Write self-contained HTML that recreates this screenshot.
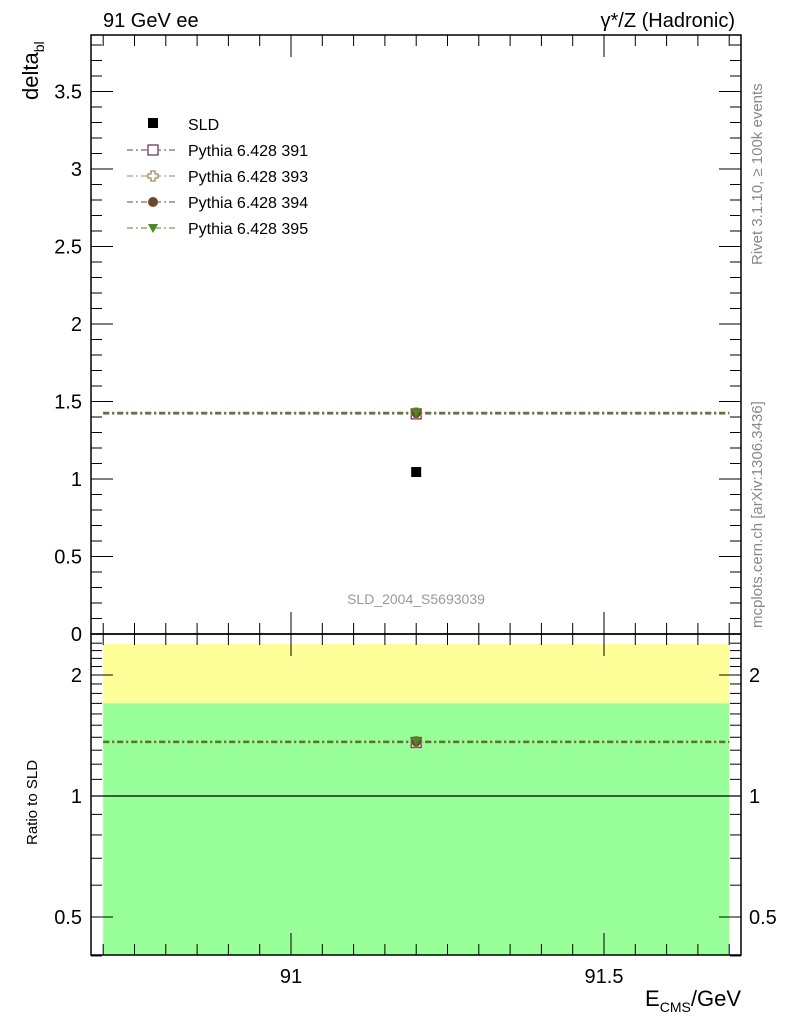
<!DOCTYPE html>
<html><head><meta charset="utf-8"><style>
body{margin:0;background:#fff;}
svg{display:block;font-family:"Liberation Sans",sans-serif;}
</style></head><body>
<svg id="chart" width="786" height="1024">
<rect x="0" y="0" width="786" height="1024" fill="#fff"/>
<g id="ratio-bands"></g>
<g id="lines"></g>
<g id="ticks"></g>
<rect x="91" y="35" width="650" height="599" fill="none" stroke="#000" stroke-width="1.5"/>
<rect x="91" y="634" width="650" height="321" fill="none" stroke="#000" stroke-width="1.5"/>
<text x="103" y="27" font-size="20">91 GeV ee</text>
<text x="735" y="27" font-size="20" text-anchor="end">γ*/Z (Hadronic)</text>
<text transform="translate(38,100) rotate(-90)" font-size="22">delta<tspan font-size="14" dy="6">bl</tspan></text>
<text transform="translate(37,845) rotate(-90)" font-size="15">Ratio to SLD</text>
<text x="741" y="1006" font-size="22" text-anchor="end">E<tspan font-size="14" dy="6">CMS</tspan><tspan dy="-6">/GeV</tspan></text>
<text transform="translate(762,265) rotate(-90)" font-size="15" fill="#888">Rivet 3.1.10, ≥ 100k events</text>
<text transform="translate(762,628) rotate(-90)" font-size="15" fill="#888">mcplots.cern.ch [arXiv:1306.3436]</text>
<text x="416" y="604" font-size="14" fill="#999" text-anchor="middle">SLD_2004_S5693039</text>
<g id="legend"></g>
<g id="marks"></g>
</svg>
<script>
const xCenters=[91.2];
const xLo=[90.7];
const xHi=[91.7];
const sldValues=[1.045];
const mcNames=["Pythia 6.428 391","Pythia 6.428 393","Pythia 6.428 394","Pythia 6.428 395"];
const mcValues=[1.42,1.425,1.428,1.43];
const mcColors=["#6b3a55","#9a8a5a","#6b4a2a","#4a8a20"];
const bandYellow=[2.39];
const bandGreen=[1.70];
const yTicks=[0,0.5,1,1.5,2,2.5,3,3.5];
const rTicks=[0.5,1,2];
const xTicks=[91,91.5];

const NS="http://www.w3.org/2000/svg";
const sx=v=>291+(v-91)*626;
const sy=v=>634-v*155;
const sr=v=>796-Math.log2(v)*121;
function mk(tag,a,parent){const e=document.createElementNS(NS,tag);for(const k in a)e.setAttribute(k,a[k]);document.getElementById(parent).appendChild(e);return e;}

// ratio bands
let b=mk('rect',{x:sx(xLo[0]),y:sr(bandYellow[0]),width:sx(xHi[0])-sx(xLo[0]),height:955-sr(bandYellow[0]),fill:'#ffff99'},'ratio-bands');


b=mk('rect',{x:sx(xLo[0]),y:sr(bandGreen[0]),width:sx(xHi[0])-sx(xLo[0]),height:955-sr(bandGreen[0]),fill:'#99ff99'},'ratio-bands');


let l=mk('line',{x1:91,x2:741,y1:sr(1),y2:sr(1),stroke:'#000','stroke-width':1.2},'lines');



// ticks
for(let v=0;v<=3.85;v+=0.1){const y=sy(v);const maj=yTicks.some(t=>Math.abs(t-v)<1e-6);const L=maj?22:11;
 mk('line',{x1:91,x2:91+L,y1:y,y2:y,stroke:'#000'},'ticks');mk('line',{x1:741,x2:741-L,y1:y,y2:y,stroke:'#000'},'ticks');}
yTicks.forEach(v=>{const t=mk('text',{x:82,y:sy(v)+7,'font-size':20,'text-anchor':'end'},'ticks');t.textContent=v;
 
 });
for(let v=0.4;v<=2.5;v+=0.1){const y=sr(v);const maj=rTicks.some(t=>Math.abs(t-v)<1e-6);const L=maj?22:11;
 mk('line',{x1:91,x2:91+L,y1:y,y2:y,stroke:'#000'},'ticks');mk('line',{x1:741,x2:741-L,y1:y,y2:y,stroke:'#000'},'ticks');}
rTicks.forEach(v=>{let t=mk('text',{x:82,y:sr(v)+7,'font-size':20,'text-anchor':'end'},'ticks');t.textContent=v;
 
 
 t=mk('text',{x:749,y:sr(v)+7,'font-size':20},'ticks');t.textContent=v;
 
 });
for(let v=90.7;v<=91.72;v+=0.05){const x=sx(v);const maj=xTicks.some(t=>Math.abs(t-v)<1e-6);const L=maj?22:11;
 [35,634].forEach(y0=>mk('line',{x1:x,x2:x,y1:y0,y2:y0+L,stroke:'#000'},'ticks'));
 [634,955].forEach(y0=>mk('line',{x1:x,x2:x,y1:y0,y2:y0-L,stroke:'#000'},'ticks'));}
xTicks.forEach(v=>{const t=mk('text',{x:sx(v),y:983,'font-size':20,'text-anchor':'middle'},'ticks');t.textContent=v;
 
 });

// marker helper
function marker(i,cx,cy,parent){let e;
 if(i===0)e=mk('rect',{x:cx-5,y:cy-5,width:10,height:10,fill:'#fff',stroke:mcColors[0],'stroke-width':1.3},parent);
 else if(i===1)e=mk('path',{d:`M${cx-2},${cy-5}h4v3h3v4h-3v3h-4v-3h-3v-4h3z`,fill:'#fff',stroke:mcColors[1],'stroke-width':1.3},parent);
 else if(i===2)e=mk('circle',{cx:cx,cy:cy,r:5,fill:mcColors[2]},parent);
 else e=mk('path',{d:`M${cx-5},${cy-4}h10l-5,9z`,fill:mcColors[3]},parent);
 return e;}

// MC lines
mcValues.forEach((v,i)=>{
 let ln=mk('line',{x1:sx(xLo[0]),x2:sx(xHi[0]),y1:sy(v),y2:sy(v),stroke:mcColors[i],'stroke-dasharray':'6,3,2,3','stroke-width':1.2},'lines');
 
 
 const r=v/sldValues[0];
 ln=mk('line',{x1:sx(xLo[0]),x2:sx(xHi[0]),y1:sr(r),y2:sr(r),stroke:mcColors[i],'stroke-dasharray':'6,3,2,3','stroke-width':1.2},'lines');
 
 
 let m=marker(i,sx(xCenters[0]),sy(v),'marks');
 
 
 m=marker(i,sx(xCenters[0]),sr(r),'marks');
 
 
});
let sp=mk('rect',{x:sx(xCenters[0])-5,y:sy(sldValues[0])-5,width:10,height:10,fill:'#000'},'marks');



// legend
let s=mk('rect',{x:148,y:118,width:10,height:10,fill:'#000'},'legend');


let lt=mk('text',{x:188,y:130,'font-size':16},'legend');lt.textContent='SLD';


mcNames.forEach((n,i)=>{const y=150+i*26;
 let ln=mk('line',{x1:127,x2:175,y1:y,y2:y,stroke:mcColors[i],'stroke-dasharray':'6,3,2,3'},'legend');
 
 
 let m=marker(i,153,y,'legend');
 
 
 const t=mk('text',{x:188,y:y+6,'font-size':16},'legend');t.textContent=n;
 
 
});
</script>
</body></html>
